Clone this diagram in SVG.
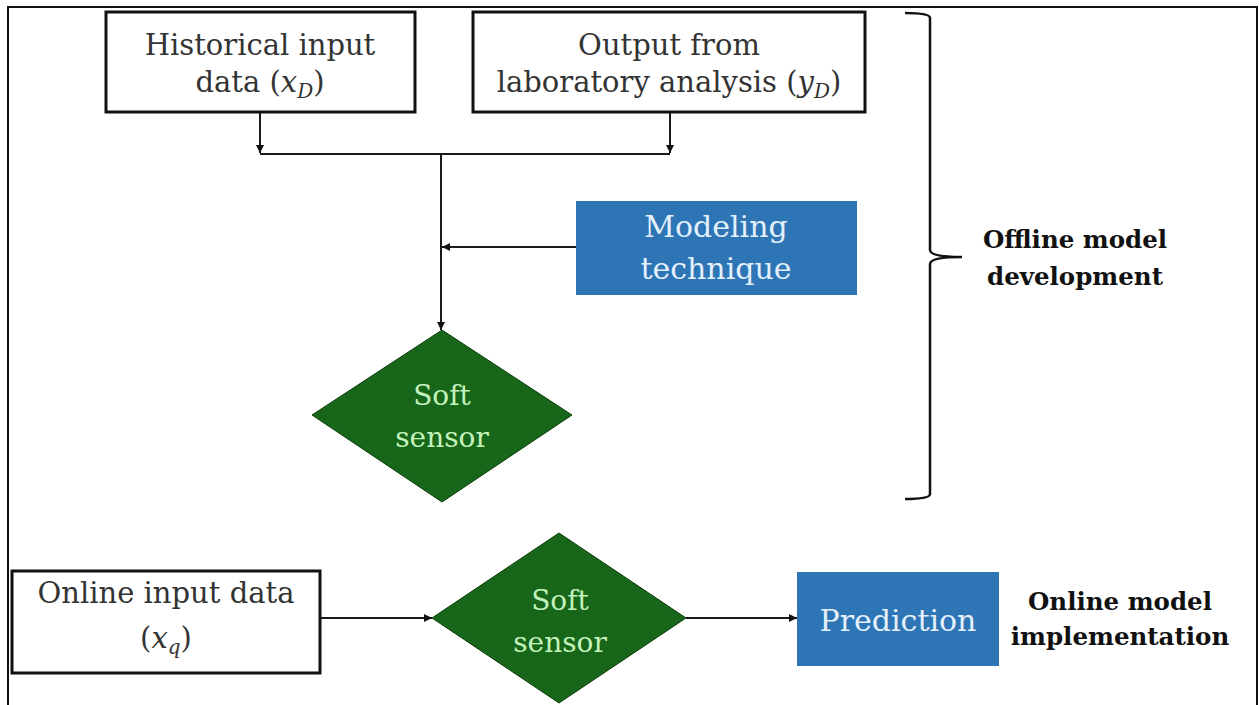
<svg xmlns="http://www.w3.org/2000/svg" width="1259" height="705" viewBox="0 0 1259 705">
<defs>
<style>
.box{fill:#fff;stroke:#111;stroke-width:3}
.blue{fill:#2E75B6}
.dia{fill:#17661A;stroke:#0b3d0b;stroke-width:1}
.t{font-family:"DejaVu Serif",serif;font-size:29px;fill:#333;text-anchor:middle}
.tw{font-family:"DejaVu Serif",serif;font-size:30px;fill:#E3F0FB;text-anchor:middle}
.tg{font-family:"DejaVu Serif",serif;font-size:28px;fill:#C4F2BC;text-anchor:middle}
.lb{font-family:"DejaVu Serif",serif;font-size:24.5px;font-weight:bold;fill:#111;text-anchor:middle}
.c{fill:none;stroke:#1a1a1a;stroke-width:2}
.i{font-style:italic}
</style>
<marker id="ah" viewBox="0 0 10 10" refX="10" refY="5" markerWidth="8" markerHeight="8" markerUnits="userSpaceOnUse" orient="auto">
<path d="M0,0 L10,5 L0,10 z" fill="#111"/>
</marker>
</defs>
<path d="M8,705 L8,7 L1257,7 L1257,705" fill="none" stroke="#111" stroke-width="2"/>
<g id="connectors">
<path class="c" d="M260,112 L260,153" marker-end="url(#ah)"/>
<path class="c" d="M670,112 L670,153" marker-end="url(#ah)"/>
<path class="c" d="M260,154 L670,154"/>
<path class="c" d="M441,154 L441,330" marker-end="url(#ah)"/>
<path class="c" d="M576,247 L442,247" marker-end="url(#ah)"/>
<path class="c" d="M320,618 L432,618" marker-end="url(#ah)"/>
<path class="c" d="M686,618 L797,618" marker-end="url(#ah)"/>
</g>
<g id="historical">
<rect class="box" x="106" y="12" width="309" height="100"/>
<text class="t" x="260" y="55">Historical input</text>
<text class="t" x="260" y="92">data (<tspan class="i">x</tspan><tspan class="i" font-size="20" dy="6">D</tspan><tspan dy="-6">)</tspan></text>
</g>
<g id="output">
<rect class="box" x="473" y="12" width="392" height="100"/>
<text class="t" x="669" y="55">Output from</text>
<text class="t" x="669" y="92">laboratory analysis (<tspan class="i">y</tspan><tspan class="i" font-size="20" dy="6">D</tspan><tspan dy="-6">)</tspan></text>
</g>
<g id="modeling">
<rect class="blue" x="576" y="201" width="281" height="94"/>
<text class="tw" x="716" y="237">Modeling</text>
<text class="tw" x="716" y="279">technique</text>
</g>
<g id="softsensor1">
<polygon class="dia" points="442,330 572,415 442,502 312,415"/>
<text class="tg" x="442" y="405">Soft</text>
<text class="tg" x="442" y="447">sensor</text>
</g>
<g id="brace">
<path d="M905,13 Q930,13 930,18 L930,250 Q930,257 962,257 Q930,257 930,264 L930,494 Q930,499 905,499" fill="none" stroke="#111" stroke-width="2.5"/>
</g>
<g id="offline-label">
<text class="lb" x="1075" y="248">Offline model</text>
<text class="lb" x="1075" y="285">development</text>
</g>
<g id="online-input">
<rect class="box" x="12" y="571" width="308" height="102"/>
<text class="t" x="166" y="603">Online input data</text>
<text class="t" x="166" y="648">(<tspan class="i">x</tspan><tspan class="i" font-size="20" dy="6">q</tspan><tspan dy="-6">)</tspan></text>
</g>
<g id="softsensor2">
<polygon class="dia" points="559,533 686,618 559,703 432,618"/>
<text class="tg" x="560" y="610">Soft</text>
<text class="tg" x="560" y="652">sensor</text>
</g>
<g id="prediction">
<rect class="blue" x="797" y="572" width="202" height="94"/>
<text class="tw" x="898" y="631">Prediction</text>
</g>
<g id="online-label">
<text class="lb" x="1120" y="610">Online model</text>
<text class="lb" x="1120" y="645">implementation</text>
</g>
</svg>
